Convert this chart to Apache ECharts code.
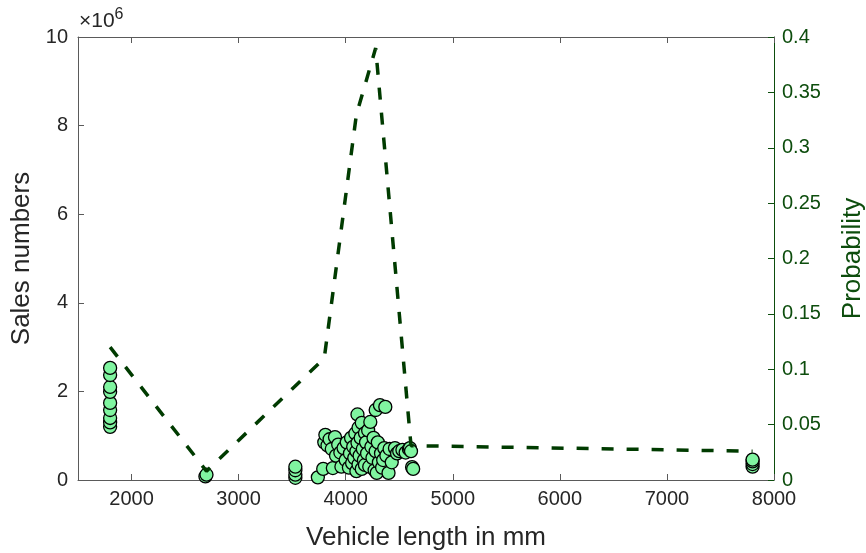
<!DOCTYPE html>
<html>
<head>
<meta charset="utf-8">
<script src="https://cdn.jsdelivr.net/npm/echarts@6/dist/echarts.min.js"></script>
<style>
  html, body { margin: 0; padding: 0; background: #fff; }
  #main { width: 866px; height: 553px; }
</style>
</head>
<body>
<div id="main"></div>
<script>
// sales in millions (axis shows x10^6)
const salesPoints = [
    [1800, 1.20], [1800, 1.30], [1800, 1.40], [1800, 1.58], [1800, 1.74],
    [1800, 1.99], [1800, 2.10], [1800, 2.37], [1800, 2.53],
    [2690, 0.08], [2700, 0.12],
    [3530, 0.05], [3530, 0.12], [3530, 0.22], [3530, 0.30],
    [3740, 0.06], [3790, 0.25], [3800, 0.85], [3810, 1.02], [3830, 0.78],
    [3850, 0.92], [3870, 0.70], [3880, 0.27], [3900, 0.97], [3910, 0.55],
    [3930, 0.80], [3950, 0.62], [3960, 0.30], [3980, 0.72], [4000, 0.45],
    [4010, 0.85], [4030, 0.28], [4040, 0.60], [4050, 0.95], [4060, 0.38],
    [4070, 0.75], [4080, 0.50], [4090, 1.05], [4100, 0.20], [4100, 0.65],
    [4110, 0.84], [4110, 1.48], [4120, 0.35], [4120, 1.18], [4130, 0.55],
    [4140, 0.95], [4150, 1.29], [4150, 0.25], [4160, 0.70], [4170, 0.45],
    [4180, 1.06], [4180, 0.34], [4190, 0.85], [4200, 0.60], [4210, 1.12],
    [4220, 0.30], [4230, 1.31], [4240, 0.75], [4250, 0.50], [4260, 0.95],
    [4270, 0.22], [4280, 1.58], [4280, 0.65], [4290, 0.16], [4300, 0.85],
    [4310, 0.40], [4320, 1.69], [4330, 0.60], [4340, 0.28], [4350, 0.45],
    [4360, 0.72], [4370, 1.65], [4380, 0.55], [4400, 0.16], [4410, 0.70],
    [4430, 0.40], [4460, 0.72], [4480, 0.60], [4500, 0.65], [4530, 0.68],
    [4560, 0.62], [4590, 0.70], [4600, 0.72], [4610, 0.65], [4620, 0.29],
    [4630, 0.25],
    [7800, 0.30], [7800, 0.36], [7800, 0.42], [7800, 0.46]
];
const probPoints = [
    [1800, 0.120], [2700, 0.008], [3800, 0.110], [4100, 0.330],
    [4280, 0.390], [4610, 0.031], [7800, 0.026]
];
const xTicks = [2000, 3000, 4000, 5000, 6000, 7000, 8000];

const font = 'Liberation Sans, Arial, Helvetica, sans-serif';
const axisGray = '#5a5a5a';
const green = '#0d4d0d';

const chart = echarts.init(document.getElementById('main'));
const option = {
    animation: false,
    grid: { left: 78, right: 92, top: 37, bottom: 73, outerBoundsMode: 'none', containLabel: false },
    xAxis: [
        {
            type: 'value', min: 1500, max: 8000, interval: 500,
            name: 'Vehicle length in mm', nameLocation: 'middle', nameGap: 45,
            nameTextStyle: { fontFamily: font, fontSize: 26, color: '#262626' },
            axisLine: { onZero: false, lineStyle: { color: axisGray, width: 1 } },
            axisTick: { inside: true, length: 6, customValues: xTicks, lineStyle: { color: axisGray } },
            axisLabel: { customValues: xTicks, fontFamily: font, fontSize: 20, color: '#262626', margin: 9,
                formatter: v => String(v) },
            splitLine: { show: false }
        },
        {
            type: 'value', min: 1500, max: 8000, interval: 500, position: 'top',
            axisLine: { show: true, onZero: false, lineStyle: { color: axisGray, width: 1 } },
            axisTick: { inside: true, length: 6, customValues: xTicks, lineStyle: { color: axisGray } },
            axisLabel: { show: false },
            splitLine: { show: false }
        }
    ],
    yAxis: [
        {
            type: 'value', min: 0, max: 10, interval: 2,
            name: 'Sales numbers', nameLocation: 'middle', nameGap: 37,
            nameTextStyle: { fontFamily: font, fontSize: 26, color: '#262626' },
            axisLine: { show: true, onZero: false, lineStyle: { color: axisGray, width: 1 } },
            axisTick: { inside: true, length: 6, lineStyle: { color: axisGray } },
            axisLabel: { fontFamily: font, fontSize: 20, color: '#262626', margin: 10 },
            splitLine: { show: false }
        },
        {
            type: 'value', min: 0, max: 0.4, interval: 0.05, position: 'right',
            name: 'Probability', nameLocation: 'middle', nameGap: 66, nameRotate: 90,
            nameTextStyle: { fontFamily: font, fontSize: 26, color: green },
            axisLine: { show: true, onZero: false, lineStyle: { color: green, width: 1 } },
            axisTick: { inside: true, length: 6, lineStyle: { color: green } },
            axisLabel: { fontFamily: font, fontSize: 20, color: green, margin: 8,
                formatter: v => String(+v.toFixed(2)) },
            splitLine: { show: false }
        }
    ],
    graphic: [{
        type: 'text', left: 79, top: 7,
        style: {
            text: '{a|×10}{b|6}',
            rich: {
                a: { fontFamily: font, fontSize: 21, fill: '#262626' },
                b: { fontFamily: font, fontSize: 16, fill: '#262626', verticalAlign: 'top', padding: [0, 0, 12, 0] }
            }
        }
    }],
    series: [
        {
            type: 'scatter', xAxisIndex: 0, yAxisIndex: 0,
            data: salesPoints, symbolSize: 13,
            itemStyle: { color: '#80f5a0', borderColor: '#000', borderWidth: 1.3, opacity: 1 },
            z: 2
        },
        {
            type: 'line', xAxisIndex: 0, yAxisIndex: 1,
            data: probPoints, showSymbol: false, symbol: 'none',
            lineStyle: { color: '#003b00', width: 3.5, type: [12, 13] },
            z: 3
        }
    ]
};
chart.setOption(option);
</script>
</body>
</html>
